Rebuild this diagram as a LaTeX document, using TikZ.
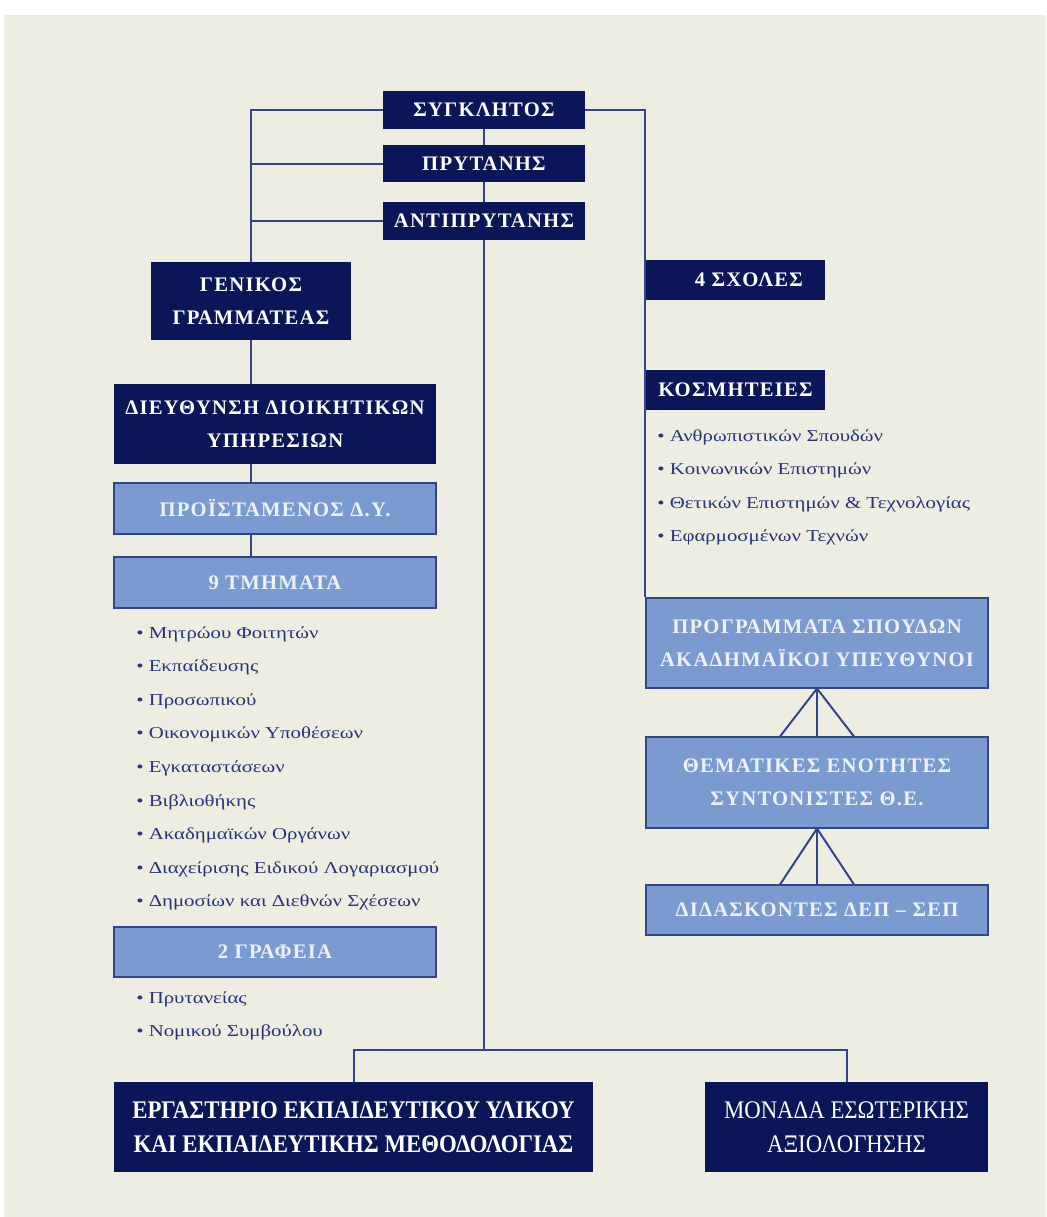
\documentclass[tikz,border=0pt]{standalone}
\usepackage{fontspec}
\setmainfont{Liberation Serif}
\newfontfamily\hdfont[LetterSpace=6]{Liberation Serif}
\newfontfamily\btfont[FakeStretch=0.9]{Liberation Serif}
\newfontfamily\lifont[FakeStretch=1.25]{Liberation Serif}
\usetikzlibrary{calc}
\pgfdeclarelayer{bg}
\pgfdeclarelayer{lines}
\pgfsetlayers{bg,lines,main}
\definecolor{navy}{HTML}{0B1658}
\definecolor{lblue}{HTML}{7B9BD0}
\definecolor{lineblue}{HTML}{34448A}
\definecolor{bgc}{HTML}{EEEDE2}
\definecolor{ltext}{HTML}{EEF1F8}
\definecolor{listc}{HTML}{27337A}
\def\u{0.75pt}
\tikzset{
  darkbox/.style={fill=navy, text=white, inner sep=0pt, align=center,
    font=\hdfont\bfseries\fontsize{15.5}{25}\selectfont},
  lightbox/.style={fill=lblue, draw=lineblue, line width=0.8pt, text=ltext, inner sep=0pt, align=center,
    font=\hdfont\bfseries\fontsize{15.5}{25}\selectfont},
  conn/.style={draw=lineblue, line width=1.5pt},
  item/.style={anchor=west, text=listc, inner sep=0pt, font=\lifont\fontsize{12.5}{14}\selectfont},
}
\begin{document}
\begin{tikzpicture}[x=0.75pt, y=-0.75pt]
\useasboundingbox (0,0) rectangle (1046,1217);
\begin{pgfonlayer}{bg}
\fill[white] (0,0) rectangle (1046,1217);
\fill[bgc] (4,15) rectangle (1046,1217);
\end{pgfonlayer}

% top column
\node[darkbox, minimum width=202*\u, minimum height=38*\u] (senate) at (484,110) {ΣΥΓΚΛΗΤΟΣ};
\node[darkbox, minimum width=202*\u, minimum height=37*\u] (rector) at (484,163.5) {ΠΡΥΤΑΝΗΣ};
\node[darkbox, minimum width=202*\u, minimum height=38*\u] (vice) at (484,221) {ΑΝΤΙΠΡΥΤΑΝΗΣ};

% left branch
\node[darkbox, minimum width=200*\u, minimum height=78*\u] (gensec) at (251,301) {ΓΕΝΙΚΟΣ\\ΓΡΑΜΜΑΤΕΑΣ};
\node[darkbox, minimum width=322*\u, minimum height=80*\u] (diey) at (275,424) {ΔΙΕΥΘΥΝΣΗ ΔΙΟΙΚΗΤΙΚΩΝ\\ΥΠΗΡΕΣΙΩΝ};
\node[lightbox, minimum width=322*\u, minimum height=51*\u] (proist) at (275,508.5) {ΠΡΟΪΣΤΑΜΕΝΟΣ Δ.Υ.};
\node[lightbox, minimum width=322*\u, minimum height=51*\u] (tmim) at (275,582.5) {9 ΤΜΗΜΑΤΑ};
\node[lightbox, minimum width=322*\u, minimum height=50*\u] (graf) at (275,952) {2 ΓΡΑΦΕΙΑ};

\node[item] (t1) at (136,634) {• Μητρώου Φοιτητών};
\node[item] (t2) at (136,667.6) {• Εκπαίδευσης};
\node[item] (t3) at (136,701.2) {• Προσωπικού};
\node[item] (t4) at (136,734.8) {• Οικονομικών Υποθέσεων};
\node[item] (t5) at (136,768.4) {• Εγκαταστάσεων};
\node[item] (t6) at (136,802) {• Βιβλιοθήκης};
\node[item] (t7) at (136,835.6) {• Ακαδημαϊκών Οργάνων};
\node[item] (t8) at (136,869.2) {• Διαχείρισης Ειδικού Λογαριασμού};
\node[item] (t9) at (136,902.8) {• Δημοσίων και Διεθνών Σχέσεων};
\node[item] (g1) at (136,999) {• Πρυτανείας};
\node[item] (g2) at (136,1032) {• Νομικού Συμβούλου};

% right branch
\node[darkbox, minimum width=179*\u, minimum height=40*\u] (sxol) at (735.5,280) {\hspace*{20pt}4 ΣΧΟΛΕΣ};
\node[darkbox, minimum width=179*\u, minimum height=40*\u] (kosm) at (735.5,390) {ΚΟΣΜΗΤΕΙΕΣ};
\node[item] (k1) at (657,437) {• Ανθρωπιστικών Σπουδών};
\node[item] (k2) at (657,470) {• Κοινωνικών Επιστημών};
\node[item] (k3) at (657,504) {• Θετικών Επιστημών \& Τεχνολογίας};
\node[item] (k4) at (657,537) {• Εφαρμοσμένων Τεχνών};
\node[lightbox, minimum width=342*\u, minimum height=90*\u] (progr) at (817,643) {ΠΡΟΓΡΑΜΜΑΤΑ ΣΠΟΥΔΩΝ\\ΑΚΑΔΗΜΑΪΚΟΙ ΥΠΕΥΘΥΝΟΙ};
\node[lightbox, minimum width=342*\u, minimum height=91*\u] (them) at (817,782.5) {ΘΕΜΑΤΙΚΕΣ ΕΝΟΤΗΤΕΣ\\ΣΥΝΤΟΝΙΣΤΕΣ Θ.Ε.};
\node[lightbox, minimum width=342*\u, minimum height=50*\u] (didask) at (817,910) {ΔΙΔΑΣΚΟΝΤΕΣ ΔΕΠ – ΣΕΠ};

% bottom
\node[darkbox, minimum width=479*\u, minimum height=90*\u, font=\btfont\bfseries\fontsize{19}{25.5}\selectfont] (ergast) at (353.5,1127) {ΕΡΓΑΣΤΗΡΙΟ ΕΚΠΑΙΔΕΥΤΙΚΟΥ ΥΛΙΚΟΥ\\ΚΑΙ ΕΚΠΑΙΔΕΥΤΙΚΗΣ ΜΕΘΟΔΟΛΟΓΙΑΣ};
\node[darkbox, minimum width=283*\u, minimum height=90*\u, font=\btfont\fontsize{19}{25.5}\selectfont] (monada) at (846.5,1127) {ΜΟΝΑΔΑ ΕΣΩΤΕΡΙΚΗΣ\\ΑΞΙΟΛΟΓΗΣΗΣ};

\coordinate (jn) at (484,1050);

\begin{pgfonlayer}{lines}
\draw[conn] (senate.west) -| (gensec.north);
\draw[conn] (rector.west) -- (rector.west -| gensec.north);
\draw[conn] (vice.west) -- (vice.west -| gensec.north);
\draw[conn] (senate) -- (rector);
\draw[conn] (rector) -- (vice);
\draw[conn] (vice.south) -- (jn);
\draw[conn] (ergast.north) |- (jn) -| (monada.north);
\draw[conn] (senate.east) -| (progr.north west);
\draw[conn] (gensec.south) -- (gensec.south |- diey.north);
\draw[conn] (gensec.south |- diey.south) -- (gensec.south |- proist.north);
\draw[conn] (gensec.south |- proist.south) -- (gensec.south |- tmim.north);
\draw[conn] ([xshift=-37*\u]them.north) -- (progr.south) -- ([xshift=37*\u]them.north);
\draw[conn] (progr.south) -- (them.north);
\draw[conn] ([xshift=-37*\u]didask.north) -- (them.south) -- ([xshift=37*\u]didask.north);
\draw[conn] (them.south) -- (didask.north);
\end{pgfonlayer}
\end{tikzpicture}
\end{document}
